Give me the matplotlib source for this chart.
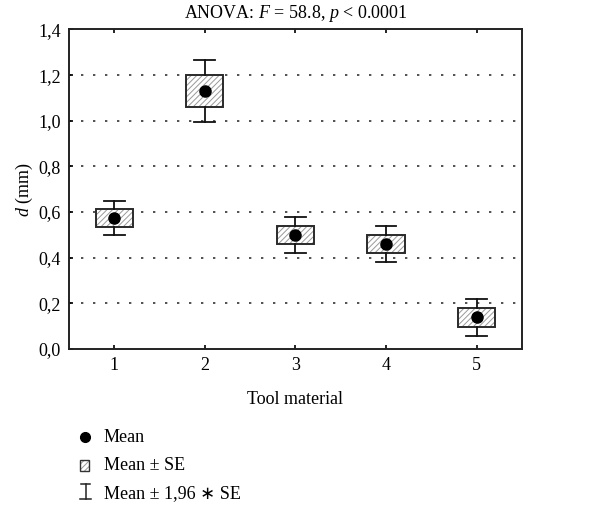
import numpy as np
import matplotlib
matplotlib.use('Agg')
from matplotlib import pyplot as plt
from matplotlib.patches import Rectangle
from matplotlib.lines import Line2D

# serif text with italic math symbols, DejaVu as fallback for odd glyphs
plt.rcParams['font.family'] = ['Liberation Serif', 'DejaVu Sans']
plt.rcParams['mathtext.fontset'] = 'custom'
plt.rcParams['mathtext.rm'] = 'Liberation Serif'
plt.rcParams['mathtext.it'] = 'Liberation Serif:italic'
plt.rcParams['hatch.linewidth'] = 0.7

# data
materials = [1, 2, 3, 4, 5]
means = [0.574, 1.131, 0.500, 0.460, 0.139]
se = [0.039, 0.069, 0.040, 0.040, 0.041]
yticks = [0.0, 0.2, 0.4, 0.6, 0.8, 1.0, 1.2, 1.4]
ytick_labels = ['0,0', '0,2', '0,4', '0,6', '0,8', '1,0', '1,2', '1,4']

fig = plt.figure(figsize=(6.11, 5.08), dpi=100)
ax = fig.add_axes([0.113, 0.313, 0.741, 0.629])

FS = 13
box_w = 0.41
cap_w = 0.23

for x, m, s in zip(materials, means, se):
    # hatched box for mean +- SE
    ax.add_patch(Rectangle((x - box_w/2, m - s), box_w, 2*s, facecolor='white',
                           edgecolor='#999999', hatch='//////', lw=0, zorder=2))
    ax.add_patch(Rectangle((x - box_w/2, m - s), box_w, 2*s, fill=False,
                           edgecolor='#2a2a2a', lw=1.4, zorder=3))
    # whiskers for mean +- 1.96 SE
    lo, hi = m - 1.96*s, m + 1.96*s
    ax.plot([x, x], [lo, m - s], color='#111111', lw=1.3, zorder=3)
    ax.plot([x, x], [m + s, hi], color='#111111', lw=1.3, zorder=3)
    ax.plot([x - cap_w/2, x + cap_w/2], [lo, lo], color='#111111', lw=1.3, zorder=3)
    ax.plot([x - cap_w/2, x + cap_w/2], [hi, hi], color='#111111', lw=1.3, zorder=3)

ax.plot(materials, means, 'o', color='black', ms=8, zorder=4, linestyle='none')

ax.set_xlim(0.5, 5.5)
ax.set_ylim(0, 1.4)
ax.set_xticks(materials)
ax.set_yticks(yticks)
ax.set_yticklabels(ytick_labels)
ax.tick_params(direction='in', length=3, width=1.2, labelsize=FS, top=True, right=False, pad=6)
for gy in yticks[1:-1]:
    ax.axhline(gy, color='#333333', lw=1.2, linestyle=(0, (1.4, 5.8)), zorder=1)
for sp in ax.spines.values():
    sp.set_linewidth(1.4)
    sp.set_color('#222222')

ax.set_title('ANOVA: $F$ = 58.8, $p$ < 0.0001', fontsize=FS, pad=8)
ax.set_xlabel('Tool material', fontsize=FS, labelpad=12)
ax.set_ylabel('$d$ (mm)', fontsize=FS, labelpad=2)

# legend drawn in figure pixels
W, H = 611, 508
def fx(px): return px / W
def fy(py): return 1 - py / H

fig.add_artist(Line2D([fx(85)], [fy(437)], marker='o', color='black', ms=7))
fig.add_artist(Rectangle((fx(80), fy(471)), 9/W, 11/H, facecolor='white',
                         edgecolor='#999999', hatch='//////', lw=0))
fig.add_artist(Rectangle((fx(80), fy(471)), 9/W, 11/H, fill=False,
                         edgecolor='#333333', lw=1.0))
fig.add_artist(Line2D([fx(85.5), fx(85.5)], [fy(484), fy(499)], color='#222222', lw=1.1))
fig.add_artist(Line2D([fx(81), fx(90)], [fy(484), fy(484)], color='#222222', lw=1.1))
fig.add_artist(Line2D([fx(80), fx(91)], [fy(499), fy(499)], color='#222222', lw=1.1))

legend_labels = ['Mean', 'Mean ± SE', 'Mean ± 1,96 ∗ SE']
for lab, py in zip(legend_labels, [437, 465, 494]):
    fig.text(fx(104), fy(py), lab, fontsize=FS, va='center', ha='left')

fig.savefig('out.png', dpi=100)
